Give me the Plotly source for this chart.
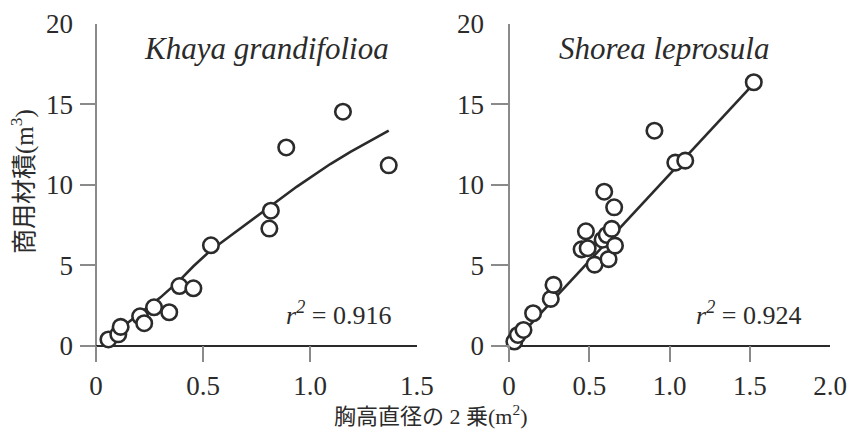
import plotly.graph_objects as go

# Khaya grandifolioa data
k_x = [0.058, 0.104, 0.115, 0.206, 0.225, 0.271, 0.342, 0.39, 0.455, 0.537, 0.81, 0.817, 0.889, 1.154, 1.368]
k_y = [0.40, 0.72, 1.18, 1.84, 1.41, 2.40, 2.09, 3.72, 3.58, 6.25, 7.29, 8.40, 12.33, 14.55, 11.22]
k_fit_x = [0.04, 0.15, 0.3, 0.393, 0.455, 0.537, 0.619, 0.72, 0.846, 0.939, 1.095, 1.189, 1.368]
k_fit_y = [0.25, 1.45, 3.0, 4.1, 4.95, 5.95, 6.75, 7.75, 9.0, 9.9, 11.3, 12.05, 13.37]

# Shorea leprosula data
s_x = [0.033, 0.055, 0.09, 0.15, 0.26, 0.277, 0.452, 0.479, 0.49, 0.533, 0.583, 0.593, 0.609,
       0.62, 0.64, 0.655, 0.66, 0.906, 1.036, 1.098, 1.525]
s_y = [0.27, 0.68, 0.99, 2.03, 2.92, 3.79, 6.0, 7.12, 6.07, 5.05, 6.6, 9.58, 6.89,
       5.39, 7.27, 8.61, 6.23, 13.37, 11.39, 11.51, 16.38]
s_fit_x = [0.025, 1.525]
s_fit_y = [0.17, 16.3]

x1_ticks = [0, 0.5, 1.0, 1.5]
x1_labels = ["0", "0.5", "1.0", "1.5"]
x2_ticks = [0, 0.5, 1.0, 1.5, 2.0]
x2_labels = ["0", "0.5", "1.0", "1.5", "2.0"]
y_ticks = [0, 5, 10, 15, 20]
y_labels = ["0", "5", "10", "15", "20"]

INK = "#2b2b2b"
GRAY = "#8a8a8a"
SERIF = "Liberation Serif"
JP = "Liberation Serif, Noto Sans CJK JP"

fig = go.Figure()

marker = dict(symbol="circle", size=15.5, color="white", line=dict(color=INK, width=2.6))

fig.add_trace(go.Scatter(x=k_fit_x, y=k_fit_y, mode="lines", line=dict(color=INK, width=2.6),
                         xaxis="x", yaxis="y", showlegend=False, hoverinfo="skip"))
fig.add_trace(go.Scatter(x=k_x, y=k_y, mode="markers", marker=marker,
                         xaxis="x", yaxis="y", showlegend=False))
fig.add_trace(go.Scatter(x=s_fit_x, y=s_fit_y, mode="lines", line=dict(color=INK, width=2.6),
                         xaxis="x2", yaxis="y2", showlegend=False, hoverinfo="skip"))
fig.add_trace(go.Scatter(x=s_x, y=s_y, mode="markers", marker=marker,
                         xaxis="x2", yaxis="y2", showlegend=False))

common_x = dict(showgrid=False, showline=False, zeroline=True, zerolinecolor=GRAY, zerolinewidth=1.5,
                ticks="inside", ticklen=16, tickwidth=1.5, tickcolor=GRAY, ticklabelstandoff=5,
                automargin=False,
                tickfont=dict(family=SERIF, size=27, color=INK), fixedrange=True)
common_y = dict(showgrid=False, showline=False, zeroline=True, zerolinecolor=INK, zerolinewidth=1.6,
                ticks="inside", tickwidth=1.5, tickcolor=GRAY, range=[-1, 20],
                tickvals=y_ticks, ticktext=y_labels, ticklabelstandoff=6, automargin=False,
                tickfont=dict(family=SERIF, size=27, color=INK), fixedrange=True)

fig.update_layout(
    width=852, height=432,
    margin=dict(l=80, r=22, t=24, b=70, autoexpand=False),
    paper_bgcolor="white", plot_bgcolor="white",
    xaxis=dict(domain=[0, 0.4493], range=[-0.075, 1.5], tickvals=x1_ticks, ticktext=x1_labels,
               anchor="y", **common_x),
    yaxis=dict(anchor="x", ticklen=16, **common_y),
    xaxis2=dict(domain=[0.548, 1.0], range=[-0.1125, 2.0], tickvals=x2_ticks, ticktext=x2_labels,
                anchor="y2", **common_x),
    yaxis2=dict(anchor="x2", ticklen=18, **common_y),
    annotations=[
        dict(text="<i>Khaya grandifolioa</i>", xref="paper", yref="paper", x=(266 - 80) / 750,
             y=1 - (48 - 24) / 338, xanchor="center", yanchor="middle", showarrow=False,
             font=dict(family=SERIF, size=31, color=INK)),
        dict(text="<i>Shorea leprosula</i>", xref="paper", yref="paper", x=(664 - 80) / 750,
             y=1 - (48 - 24) / 338, xanchor="center", yanchor="middle", showarrow=False,
             font=dict(family=SERIF, size=31, color=INK)),
        dict(text="<i>r</i><sup><i>2</i></sup> = 0.916", xref="paper", yref="paper",
             x=(338 - 80) / 750, y=1 - (313 - 24) / 338, xanchor="center", yanchor="middle",
             showarrow=False, font=dict(family=SERIF, size=26, color=INK)),
        dict(text="<i>r</i><sup><i>2</i></sup> = 0.924", xref="paper", yref="paper",
             x=(748 - 80) / 750, y=1 - (313 - 24) / 338, xanchor="center", yanchor="middle",
             showarrow=False, font=dict(family=SERIF, size=26, color=INK)),
        dict(text="胸高直径の 2 乗(m<sup>2</sup>)", xref="paper", yref="paper",
             x=(430 - 80) / 750, y=1 - (415 - 24) / 338, xanchor="center", yanchor="middle",
             showarrow=False, font=dict(family=JP, size=22, color=INK)),
        dict(text="商用材積(m<sup>3</sup>)", xref="paper", yref="paper",
             x=(23 - 80) / 750, y=1 - (182 - 24) / 338, xanchor="center", yanchor="middle",
             textangle=-90, showarrow=False, font=dict(family=JP, size=25, color=INK)),
    ],
)

fig.write_html("out.html", config={"displayModeBar": False},
               post_script="document.body.style.margin='0';document.body.style.overflow='hidden';")
